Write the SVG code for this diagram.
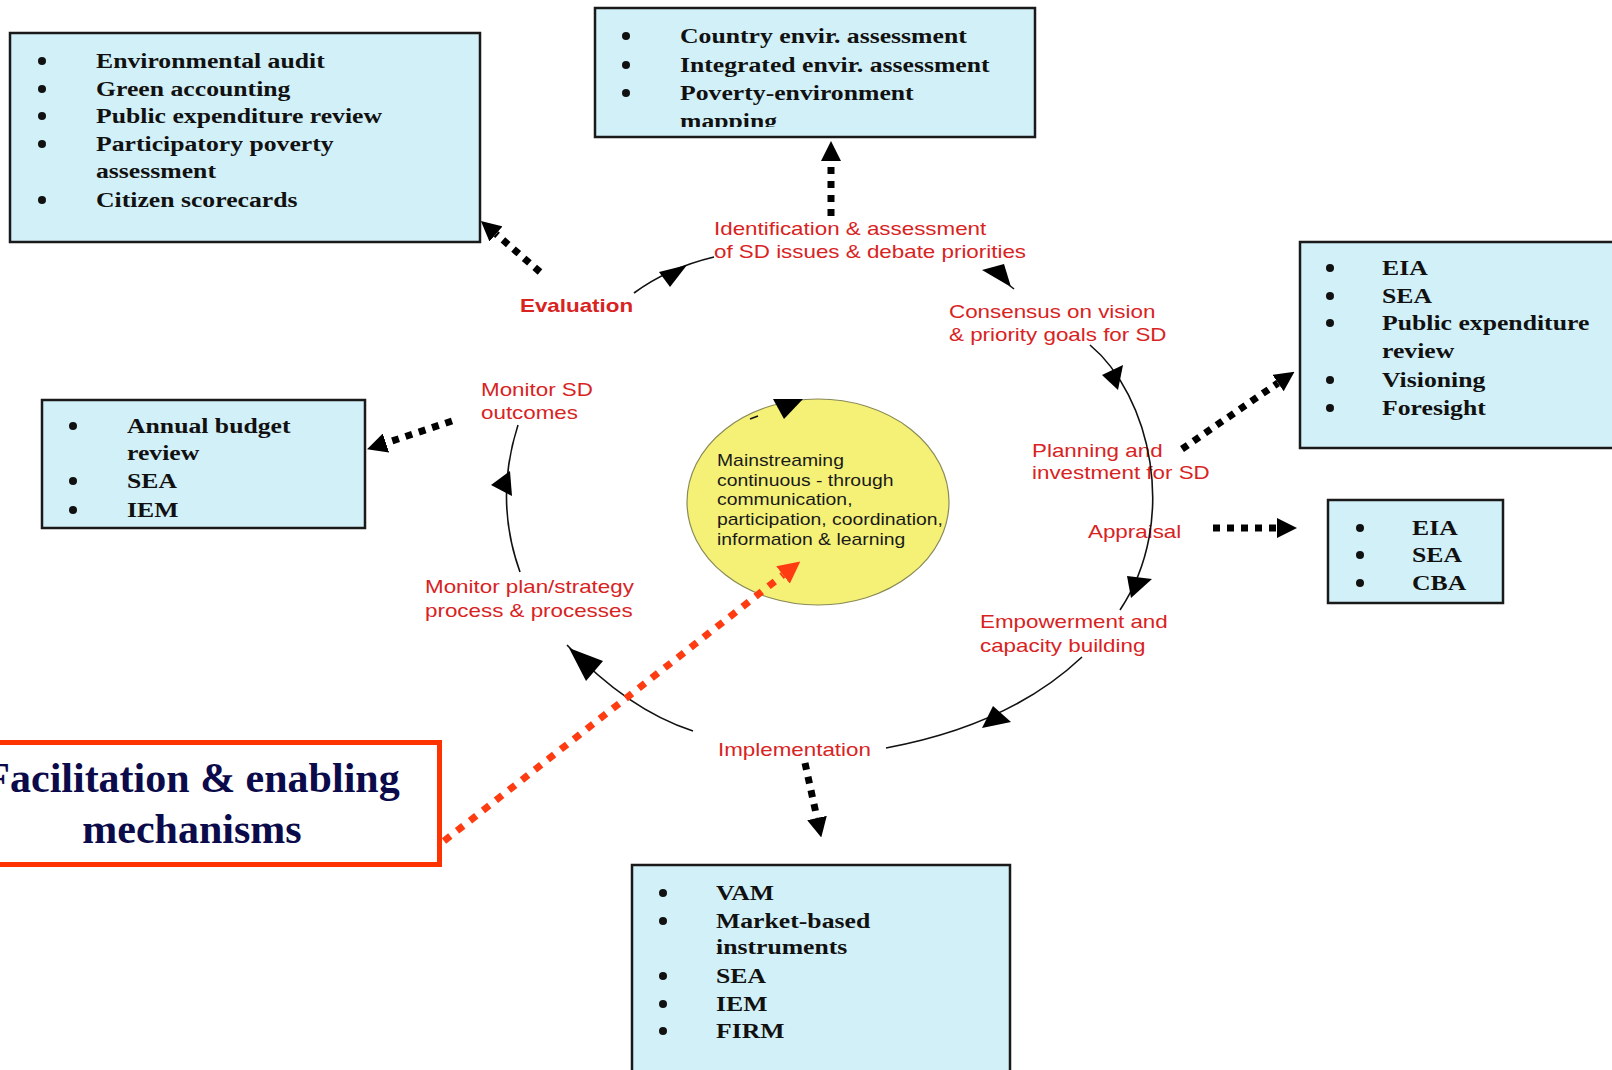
<svg xmlns="http://www.w3.org/2000/svg" width="1612" height="1070" viewBox="0 0 1612 1070">
<style>
.box{fill:#d2f0f8;stroke:#1a1a1a;stroke-width:2.5}
.bx{font-family:"Liberation Serif","Times New Roman",serif;font-weight:bold;font-size:21px;fill:#111}
.bul{fill:#111}
.lbl{font-family:"Liberation Sans",Arial,sans-serif;font-size:18.5px;fill:#d8231f}
.b{font-weight:bold}
.el{font-family:"Liberation Sans",Arial,sans-serif;font-size:16px;fill:#1a1a1a}
.arc{fill:none;stroke:#111;stroke-width:1.6}
.ah{fill:#000}
.dot{fill:none;stroke:#000;stroke-width:7;stroke-dasharray:7 7}
.rdot{fill:none;stroke:#ff3b12;stroke-width:7;stroke-dasharray:8 8.5}
.fac{font-family:"Liberation Serif","Times New Roman",serif;font-weight:bold;font-size:42px;fill:#0b0a4a;text-anchor:middle}
</style>
<defs>
<marker id="mB" markerUnits="userSpaceOnUse" markerWidth="20" markerHeight="20" viewBox="0 0 20 20" refX="0" refY="10" orient="auto"><path d="M0,0 L20,10 L0,20 Z" fill="#000"/></marker>
<marker id="mR" markerUnits="userSpaceOnUse" markerWidth="22" markerHeight="22" viewBox="0 0 22 22" refX="0" refY="11" orient="auto"><path d="M0,0 L22,11 L0,22 Z" fill="#ff3b12"/></marker>
<clipPath id="clipTC"><rect x="590" y="0" width="450" height="127"/></clipPath>
</defs>
<rect x="0" y="0" width="1612" height="1070" fill="#fff"/>

<g id="box-evaluation-tools">
<rect class="box" x="10" y="33" width="470" height="209"/>
<circle class="bul" cx="42" cy="61" r="4"/><circle class="bul" cx="42" cy="89" r="4"/><circle class="bul" cx="42" cy="116" r="4"/><circle class="bul" cx="42" cy="144" r="4"/><circle class="bul" cx="42" cy="200" r="4"/>
<text class="bx" transform="translate(96,0) scale(1.224,1)"><tspan x="0" y="68">Environmental audit</tspan><tspan x="0" y="96">Green accounting</tspan><tspan x="0" y="123">Public expenditure review</tspan><tspan x="0" y="151">Participatory poverty</tspan><tspan x="0" y="178">assessment</tspan><tspan x="0" y="207">Citizen scorecards</tspan></text>
</g>

<g id="box-identification-tools">
<rect class="box" x="595" y="8" width="440" height="129"/>
<circle class="bul" cx="626" cy="36" r="4"/><circle class="bul" cx="626" cy="65" r="4"/><circle class="bul" cx="626" cy="93" r="4"/>
<g clip-path="url(#clipTC)"><text class="bx" transform="translate(680,0) scale(1.224,1)"><tspan x="0" y="43">Country envir. assessment</tspan><tspan x="0" y="72">Integrated envir. assessment</tspan><tspan x="0" y="100">Poverty-environment</tspan><tspan x="0" y="128">mapping</tspan></text></g>
</g>

<g id="box-planning-tools">
<rect class="box" x="1300" y="242" width="330" height="206"/>
<circle class="bul" cx="1330" cy="268" r="4"/><circle class="bul" cx="1330" cy="296" r="4"/><circle class="bul" cx="1330" cy="323" r="4"/><circle class="bul" cx="1330" cy="380" r="4"/><circle class="bul" cx="1330" cy="408" r="4"/>
<text class="bx" transform="translate(1382,0) scale(1.224,1)"><tspan x="0" y="275">EIA</tspan><tspan x="0" y="303">SEA</tspan><tspan x="0" y="330">Public expenditure</tspan><tspan x="0" y="358">review</tspan><tspan x="0" y="387">Visioning</tspan><tspan x="0" y="415">Foresight</tspan></text>
</g>

<g id="box-monitoring-tools">
<rect class="box" x="42" y="400" width="323" height="128"/>
<circle class="bul" cx="73" cy="426" r="4"/><circle class="bul" cx="73" cy="481" r="4"/><circle class="bul" cx="73" cy="510" r="4"/>
<text class="bx" transform="translate(127,0) scale(1.224,1)"><tspan x="0" y="433">Annual budget</tspan><tspan x="0" y="460">review</tspan><tspan x="0" y="488">SEA</tspan><tspan x="0" y="517">IEM</tspan></text>
</g>

<g id="box-appraisal-tools">
<rect class="box" x="1328" y="500" width="175" height="103"/>
<circle class="bul" cx="1360" cy="528" r="4"/><circle class="bul" cx="1360" cy="555" r="4"/><circle class="bul" cx="1360" cy="583" r="4"/>
<text class="bx" transform="translate(1412,0) scale(1.224,1)"><tspan x="0" y="535">EIA</tspan><tspan x="0" y="562">SEA</tspan><tspan x="0" y="590">CBA</tspan></text>
</g>

<g id="box-implementation-tools">
<rect class="box" x="632" y="865" width="378" height="220"/>
<circle class="bul" cx="663" cy="893" r="4"/><circle class="bul" cx="663" cy="921" r="4"/><circle class="bul" cx="663" cy="976" r="4"/><circle class="bul" cx="663" cy="1004" r="4"/><circle class="bul" cx="663" cy="1031" r="4"/>
<text class="bx" transform="translate(716,0) scale(1.224,1)"><tspan x="0" y="900">VAM</tspan><tspan x="0" y="928">Market-based</tspan><tspan x="0" y="954">instruments</tspan><tspan x="0" y="983">SEA</tspan><tspan x="0" y="1011">IEM</tspan><tspan x="0" y="1038">FIRM</tspan></text>
</g>

<g id="facilitation">
<rect x="-10" y="742.5" width="449.5" height="122" fill="#fff" stroke="#ff3300" stroke-width="5"/>
<text class="fac"><tspan x="192" y="792">Facilitation &amp; enabling</tspan><tspan x="192" y="843">mechanisms</tspan></text>
</g>

<g id="mainstreaming">
<ellipse cx="818" cy="502" rx="131" ry="103" fill="#f5f176" stroke="#8a8a58" stroke-width="1.2"/>
<text class="el" transform="translate(717,0) scale(1.21,1)"><tspan x="0" y="466">Mainstreaming</tspan><tspan x="0" y="486">continuous - through</tspan><tspan x="0" y="505">communication,</tspan><tspan x="0" y="525">participation, coordination,</tspan><tspan x="0" y="545">information &amp; learning</tspan></text>
</g>

<g id="stage-identification"><text class="lbl" transform="translate(714,235) scale(1.21,1)"><tspan x="0" y="0">Identification &amp; assessment</tspan><tspan x="0" y="23">of SD issues &amp; debate priorities</tspan></text></g>
<g id="stage-evaluation"><text class="lbl b" transform="translate(520,312) scale(1.21,1)">Evaluation</text></g>
<g id="stage-consensus"><text class="lbl" transform="translate(949,318) scale(1.21,1)"><tspan x="0" y="0">Consensus on vision</tspan><tspan x="0" y="23">&amp; priority goals for SD</tspan></text></g>
<g id="stage-planning"><text class="lbl" transform="translate(1032,457) scale(1.21,1)"><tspan x="0" y="0">Planning and</tspan><tspan x="0" y="22">investment for SD</tspan></text></g>
<g id="stage-appraisal"><text class="lbl" transform="translate(1088,538) scale(1.21,1)">Appraisal</text></g>
<g id="stage-empowerment"><text class="lbl" transform="translate(980,628) scale(1.21,1)"><tspan x="0" y="0">Empowerment and</tspan><tspan x="0" y="24">capacity building</tspan></text></g>
<g id="stage-implementation"><text class="lbl" transform="translate(718,756) scale(1.21,1)">Implementation</text></g>
<g id="stage-monitor-plan"><text class="lbl" transform="translate(425,593) scale(1.21,1)"><tspan x="0" y="0">Monitor plan/strategy</tspan><tspan x="0" y="24">process &amp; processes</tspan></text></g>
<g id="stage-monitor-sd"><text class="lbl" transform="translate(481,396) scale(1.21,1)"><tspan x="0" y="0">Monitor SD</tspan><tspan x="0" y="23">outcomes</tspan></text></g>

<g id="connectors">
<path class="arc" d="M634,293 Q668,268 714,257"/>
<polygon class="ah" points="659,272 687,265 670,287"/>
<polygon class="ah" points="982,270 1004,264 1011,287"/>
<path class="arc" d="M1009,285 L1014,289"/>
<path class="arc" d="M1090,345 C1150,395 1180,520 1120,610"/>
<polygon class="ah" points="1102,375 1123,365 1118,390"/>
<polygon class="ah" points="1127,576 1152,579 1131,598"/>
<path class="arc" d="M1082,657 Q1010,725 886,748"/>
<polygon class="ah" points="982,728 993,706 1011,722"/>
<path class="arc" d="M693,731 Q628,710 567,645"/>
<polygon class="ah" points="569,648 603,661 586,681"/>
<path class="arc" d="M520,572 Q494,500 518,425"/>
<polygon class="ah" points="491,485 510,471 512,496"/>
<polygon class="ah" points="773,399 803,399 784,419"/>
<path class="arc" d="M750,419 L758,416"/>

<path class="dot" d="M831,216 L831,161" marker-end="url(#mB)"/>
<path class="dot" d="M540,272 L496,234" marker-end="url(#mB)"/>
<path class="dot" d="M452,421 L386,443" marker-end="url(#mB)"/>
<path class="dot" d="M1182,449 L1278,383" marker-end="url(#mB)"/>
<path class="dot" d="M1213,528 L1277,528" marker-end="url(#mB)"/>
<path class="dot" d="M805,763 L817,818" marker-end="url(#mB)"/>
<path class="rdot" d="M444,841 L783,575" marker-end="url(#mR)"/>
</g>
</svg>
